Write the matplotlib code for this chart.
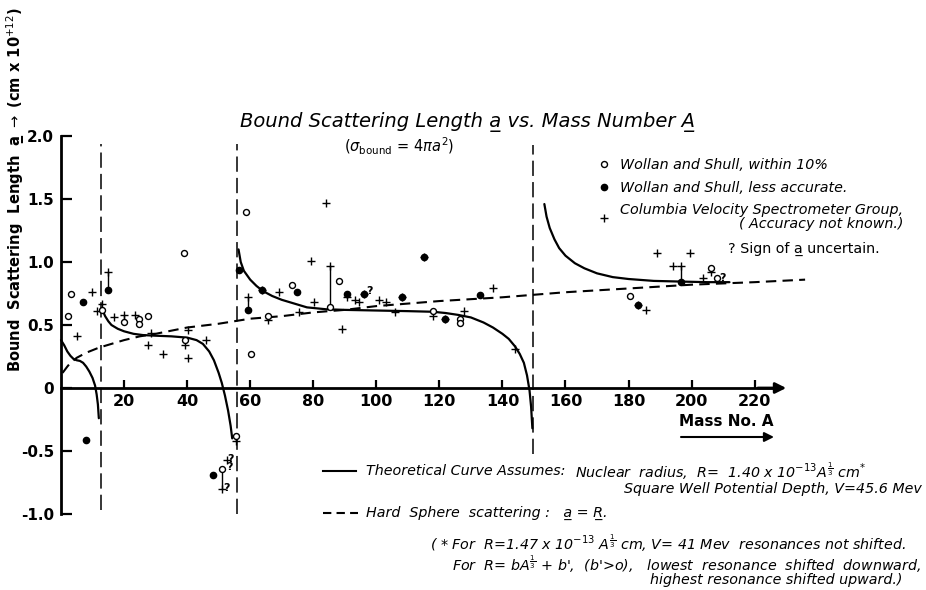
import matplotlib
matplotlib.use("Agg")
import matplotlib.pyplot as plt
from matplotlib.lines import Line2D

plt.rcParams['font.family'] = ['DejaVu Sans']
plt.rcParams['mathtext.fontset'] = 'dejavusans'

# ---------------- data ----------------
open_A = [2.1, 3.2, 13.0, 20.0, 24.8, 24.8, 27.7, 38.9, 39.3, 55.4, 51.2, 58.6, 60.3,
          65.5, 73.2, 85.3, 88.2, 118.0, 126.7, 126.7, 180.4, 206.0, 208.0]
open_a = [0.57, 0.75, 0.62, 0.52, 0.545, 0.505, 0.57, 1.07, 0.38, -0.38, -0.64, 1.40, 0.27,
          0.57, 0.82, 0.645, 0.85, 0.61, 0.55, 0.515, 0.73, 0.95, 0.87]

filled_A = [6.9, 7.9, 15.0, 48.3, 56.5, 59.3, 63.6, 75.0, 90.8, 96.1, 108.3, 115.0,
            121.7, 132.9, 182.9, 196.5]
filled_a = [0.68, -0.41, 0.78, -0.69, 0.94, 0.62, 0.78, 0.76, 0.75, 0.75, 0.72, 1.04,
            0.55, 0.74, 0.66, 0.84]

plus_A = [5.1, 9.8, 11.4, 12.9, 15.0, 16.9, 20.0, 23.5, 27.5, 28.7, 32.5, 39.3, 40.3, 40.3,
          46.0, 55.4, 52.8, 51.2, 59.3, 63.6, 65.5, 69.2, 75.5, 79.2, 80.3, 84.0, 85.3, 89.2,
          90.8, 93.3, 94.5, 96.1, 101.0, 103.0, 105.8, 108.3, 115.0, 118.0, 121.7, 127.8,
          137.0, 144.0, 182.9, 185.4, 188.9, 194.1, 196.5, 199.4, 203.6, 206.0]
plus_a = [0.41, 0.76, 0.61, 0.67, 0.92, 0.56, 0.58, 0.58, 0.34, 0.44, 0.27, 0.34, 0.46, 0.24,
          0.38, -0.42, -0.57, -0.80, 0.72, 0.78, 0.54, 0.76, 0.60, 1.01, 0.68, 1.47, 0.97, 0.47,
          0.72, 0.70, 0.68, 0.75, 0.70, 0.68, 0.60, 0.72, 1.04, 0.57, 0.55, 0.61,
          0.79, 0.31, 0.66, 0.62, 1.07, 0.97, 0.97, 1.07, 0.87, 0.92]

link_A = [15.0, 20.0, 51.2, 55.4, 59.3, 85.3, 196.5]
link_lo = [0.78, 0.52, -0.80, -0.42, 0.62, 0.645, 0.84]
link_hi = [0.92, 0.58, -0.64, -0.38, 0.72, 0.97, 0.97]

qmark_A = [97.8, 53.6, 53.4, 52.6, 209.8]
qmark_a = [0.77, -0.56, -0.63, -0.79, 0.875]

theory1_A = [0, 1, 2, 3, 4, 5, 6, 7, 8, 9, 10, 10.8, 11.3, 11.7, 12.0]
theory1_a = [0.38, 0.34, 0.29, 0.255, 0.23, 0.22, 0.215, 0.20, 0.17, 0.13, 0.08, 0.02,
             -0.05, -0.13, -0.24]
theory2_A = [13.3, 14, 15, 16, 18, 20, 23, 26, 30, 35, 40, 43, 45, 47, 48.5, 50, 51, 52,
             53, 53.8, 54.3]
theory2_a = [0.61, 0.57, 0.53, 0.50, 0.47, 0.45, 0.43, 0.42, 0.415, 0.41, 0.40, 0.38, 0.35,
             0.29, 0.22, 0.12, 0.04, -0.06, -0.18, -0.30, -0.40]
theory3_A = [56.3, 57, 58, 60, 62, 64, 67, 70, 74, 78, 84, 90, 100, 110, 118, 122, 126, 130,
             134, 137, 140, 142, 144, 145.5, 146.8, 147.8, 148.6, 149.1, 149.5]
theory3_a = [1.10, 1.0, 0.93, 0.86, 0.81, 0.77, 0.73, 0.70, 0.67, 0.64, 0.625, 0.62, 0.615,
             0.61, 0.605, 0.595, 0.58, 0.56, 0.52, 0.48, 0.43, 0.39, 0.33, 0.27, 0.20, 0.10,
             -0.02, -0.15, -0.32]
theory4_A = [153.3, 154, 155, 156.5, 158, 160, 163, 166, 170, 175, 180, 188, 196, 205, 212]
theory4_a = [1.46, 1.36, 1.27, 1.18, 1.11, 1.05, 0.99, 0.95, 0.91, 0.88, 0.865, 0.85, 0.845,
             0.84, 0.84]

sphere_A = [0.5, 2, 3, 5, 8, 12, 16, 20, 25, 30, 40, 50, 60, 70, 80, 90, 100, 120, 140, 160,
            180, 200, 220, 236]
sphere_a = [0.12, 0.17, 0.20, 0.24, 0.28, 0.32, 0.35, 0.38, 0.41, 0.43, 0.48, 0.51, 0.55,
            0.57, 0.60, 0.62, 0.65, 0.69, 0.72, 0.76, 0.79, 0.82, 0.84, 0.86]

resonance_A = [12.7, 55.8, 149.7]
resonance_lo = [-0.97, -1.0, -0.52]
resonance_hi = [1.94, 1.94, 1.93]

xticks = [20, 40, 60, 80, 100, 120, 140, 160, 180, 200, 220]
yticks = [-1.0, -0.5, 0.0, 0.5, 1.0, 1.5, 2.0]
ytick_labels = ['-1.0', '-0.5', '0', '0.5', '1.0', '1.5', '2.0']

UL = '\u0332'  # combining low line, underlines the preceding letter

W, H = 926, 590


def fx(px):
    return px / W


def fy(py):
    return 1 - py / H


fig = plt.figure(figsize=(9.26, 5.90), dpi=100)
ax = fig.add_axes([0, 0, 1, 1])
ax.patch.set_visible(False)
x0, sx = 61.0, 3.153
y0, sy = 388.0, 126.0
ax.set_xlim(-x0 / sx, (W - x0) / sx)
ax.set_ylim((y0 - H) / sy, y0 / sy)

for s in ('top', 'right'):
    ax.spines[s].set_visible(False)
ax.spines['left'].set_position(('data', 0))
ax.spines['left'].set_bounds(-1, 2)
ax.spines['bottom'].set_position(('data', 0))
ax.spines['bottom'].set_bounds(0, 226)
for s in ('left', 'bottom'):
    ax.spines[s].set_linewidth(2.0)
ax.annotate('', xy=(230, 0), xytext=(221, 0),
            arrowprops=dict(arrowstyle='-|>', lw=2, color='k', mutation_scale=16,
                            shrinkA=0, shrinkB=0))

ax.set_xticks(xticks)
ax.set_yticks(yticks, labels=ytick_labels)
ax.tick_params(axis='y', direction='in', length=8, width=1.6, pad=5, labelsize=11)
ax.tick_params(axis='x', direction='in', length=6, width=1.6, pad=4, labelsize=11.5)
for lbl in ax.get_xticklabels() + ax.get_yticklabels():
    lbl.set_fontweight('bold')

# resonance boundaries
ax.vlines(resonance_A, resonance_lo, resonance_hi, colors='k',
          linestyles=(0, (10, 4)), lw=1.1)

# curves
for A, a in ((theory1_A, theory1_a), (theory2_A, theory2_a),
             (theory3_A, theory3_a), (theory4_A, theory4_a)):
    ax.plot(A, a, color='k', lw=1.6, solid_capstyle='round')
ax.plot(sphere_A, sphere_a, color='k', lw=1.5, ls=(0, (5, 3)))

# connectors between measurements
ax.vlines(link_A, link_lo, link_hi, colors='k', lw=1.0)

# points
h_plus, = ax.plot(plus_A, plus_a, ls='none', marker='+', color='k', ms=5.5, mew=1.0,
                  zorder=4)
h_fill, = ax.plot(filled_A, filled_a, ls='none', marker='o', mfc='k', mec='k', ms=4.5,
                  zorder=5)
h_open, = ax.plot(open_A, open_a, ls='none', marker='o', mfc='white', mec='k', ms=4.3,
                  mew=1.0, zorder=6)
for A, a in zip(qmark_A, qmark_a):
    ax.text(A, a, '?', fontsize=8, fontweight='bold', ha='center', va='center')

# legend
leg = ax.legend([h_open, h_fill, h_plus],
                ['Wollan and Shull, within 10%',
                 'Wollan and Shull, less accurate.',
                 'Columbia Velocity Spectrometer Group,\n( Accuracy not known.)'],
                loc='upper left', bbox_to_anchor=(fx(597), fy(158)),
                bbox_transform=fig.transFigure, frameon=False, numpoints=1,
                handlelength=1.0, handletextpad=0.6, labelspacing=0.6,
                borderpad=0, borderaxespad=0, prop=dict(style='italic', size=10.3))
for t in leg.get_texts():
    t.set_multialignment('right')
    t.set_linespacing(1.0)
fig.text(fx(728), fy(249), '? Sign of a' + UL + ' uncertain.',
         ha='left', va='center', fontsize=10.3)

# titles
fig.text(fx(467), fy(122), 'Bound Scattering Length a' + UL + ' vs. Mass Number A' + UL,
         ha='center', va='center', fontsize=14, style='italic')
fig.text(fx(399), fy(146), r'($\sigma_{\rm bound}$ = 4$\pi a^2$)',
         ha='center', va='center', fontsize=10.5)

fig.text(fx(16), fy(190),
         'Bound  Scattering  Length  a' + UL + r' $\rightarrow$ (cm x 10$^{+12}$)',
         rotation=90, ha='center', va='center', fontsize=10.5, fontweight='bold')

fig.text(fx(726), fy(422), 'Mass No. A', ha='center', va='center', fontsize=11,
         fontweight='bold')
ax.annotate('', xy=(fx(774), fy(437)), xytext=(fx(681), fy(437)),
            xycoords='figure fraction', textcoords='figure fraction',
            arrowprops=dict(arrowstyle='-|>', lw=1.5, color='k', mutation_scale=14,
                            shrinkA=0, shrinkB=0))

# notes at the bottom
fig.add_artist(Line2D([fx(323), fx(356)], [fy(471), fy(471)], color='k', lw=1.5,
                      transform=fig.transFigure))
fig.add_artist(Line2D([fx(323), fx(358)], [fy(513), fy(513)], color='k', lw=1.5,
                      ls=(0, (4, 2.5)), transform=fig.transFigure))
note = dict(fontsize=10.3, style='italic', va='center')
fig.text(fx(366), fy(471), 'Theoretical Curve Assumes:', ha='left', **note)
fig.text(fx(575), fy(471),
         r'Nuclear  radius,  R=  1.40 x 10$^{-13}$$A^{\frac{1}{3}}$ cm$^{*}$',
         ha='left', **note)
fig.text(fx(922), fy(489), 'Square Well Potential Depth, V=45.6 Mev', ha='right', **note)
fig.text(fx(366), fy(513), 'Hard  Sphere  scattering :   a' + UL + ' = R' + UL + '.',
         ha='left', **note)
fig.text(fx(430), fy(543),
         r'( * For  R=1.47 x 10$^{-13}$ $A^{\frac{1}{3}}$ cm, V= 41 Mev  resonances not shifted.',
         ha='left', **note)
fig.text(fx(452), fy(564),
         r"For  R= b$A^{\frac{1}{3}}$ + b',  (b'>o),   lowest  resonance  shifted  downward,",
         ha='left', **note)
fig.text(fx(902), fy(580), 'highest resonance shifted upward.)', ha='right', **note)

fig.savefig('out.png', dpi=100, facecolor='white')
